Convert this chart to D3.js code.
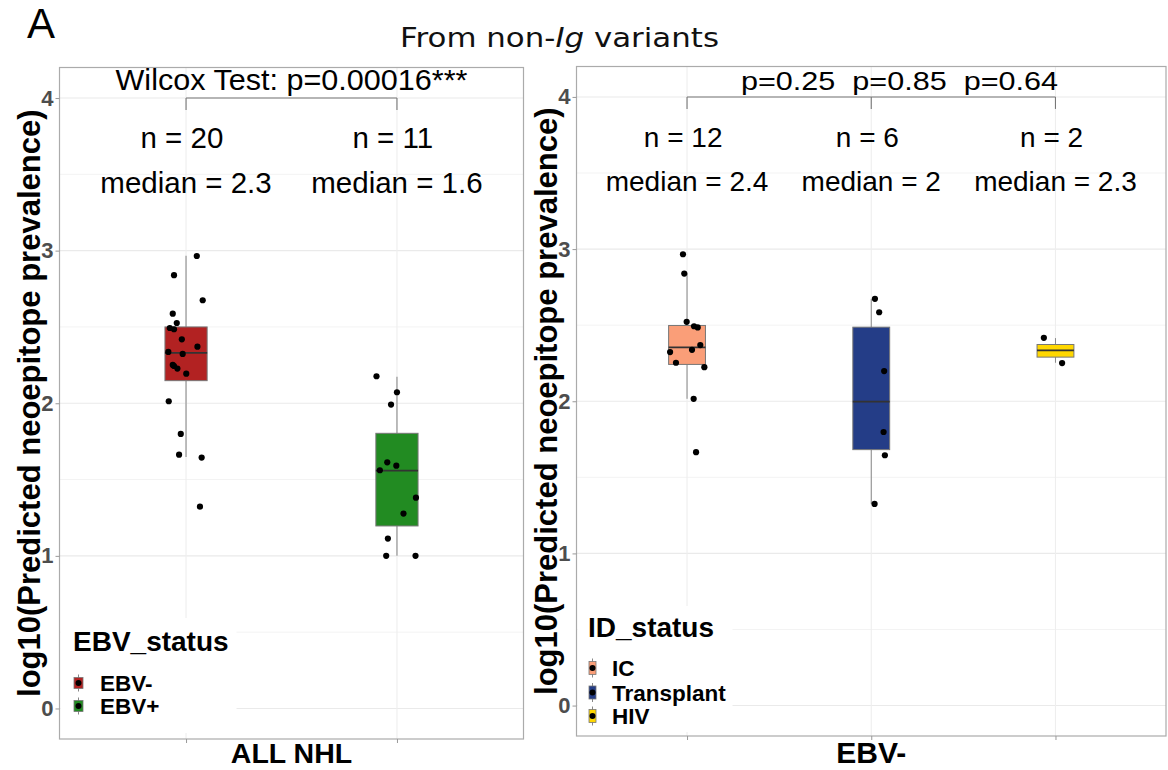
<!DOCTYPE html>
<html>
<head>
<meta charset="utf-8">
<script src="https://cdn.jsdelivr.net/npm/d3@7"></script>
<style>
  html, body { margin: 0; padding: 0; background: #fff; }
  svg { display: block; }
  text { font-family: "Liberation Sans", Arial, sans-serif; }
</style>
</head>
<body>
<svg id="chart" width="1168" height="770"></svg>
<script>
// ---------------- DATA ----------------
const yTickValues = [0, 1, 2, 3, 4];
const yMinorValues = [0.5, 1.5, 2.5, 3.5];

// Left panel: EBV status (ALL NHL)
const leftGroups = ["EBV-", "EBV+"];
const leftColors = ["#B22222", "#228B22"];
const leftN = [20, 11];
const leftMedianLabel = ["2.3", "1.6"];
const leftQ1 = [2.148, 1.196];
const leftMedian = [2.330, 1.558];
const leftQ3 = [2.500, 1.803];
const leftWhiskerLow = [1.648, 1.000];
const leftWhiskerHigh = [2.967, 2.174];
const ebvNegValues = [2.965, 2.839, 2.675, 2.587, 2.526, 2.493, 2.485, 2.419, 2.371, 2.336,
                      2.323, 2.251, 2.244, 2.227, 2.194, 2.013, 1.799, 1.663, 1.644, 1.322];
const ebvNegJitter = [0.051, -0.057, 0.079, -0.063, -0.044, -0.077, -0.057, -0.020, 0.054, -0.084,
                      -0.016, -0.063, -0.057, -0.041, 0.001, -0.082, -0.025, -0.033, 0.074, 0.066];
const ebvPosValues = [2.177, 2.072, 1.991, 1.613, 1.591, 1.561, 1.381, 1.277, 1.113, 1.000, 1.000];
const ebvPosJitter = [-0.097, 0.000, -0.028, -0.046, -0.003, -0.081, 0.090, 0.031, -0.043, -0.051, 0.088];

// Right panel: ID status (EBV-)
const rightGroups = ["IC", "Transplant", "HIV"];
const rightColors = ["#FA9E78", "#243D87", "#FFD700"];
const rightN = [12, 6, 2];
const rightMedianLabel = ["2.4", "2", "2.3"];
const rightQ1 = [2.242, 1.682, 2.290];
const rightMedian = [2.354, 1.997, 2.334];
const rightQ3 = [2.498, 2.487, 2.373];
const rightWhiskerLow = [2.016, 1.325, 2.253];
const rightWhiskerHigh = [2.839, 2.673, 2.415];
const icValues = [2.966, 2.839, 2.522, 2.493, 2.485, 2.369, 2.338, 2.323, 2.253, 2.224, 2.016, 1.665];
const icJitter = [-0.022, -0.015, -0.002, 0.038, 0.058, 0.072, 0.027, -0.092, -0.060, 0.094, 0.036, 0.049];
const transplantValues = [2.673, 2.585, 2.198, 1.798, 1.645, 1.325];
const transplantJitter = [0.020, 0.043, 0.070, 0.067, 0.074, 0.018];
const hivValues = [2.417, 2.251];
const hivJitter = [-0.063, 0.036];

// ---------------- DRAWING ----------------
const svg = d3.select("#chart");

svg.append("text").attr("x", 27).attr("y", 38)
  .style("font-size", "42px").attr("fill", "#000").text("A");

const title = svg.append("text").attr("x", 400).attr("y", 47)
  .attr("textLength", 319).attr("lengthAdjust", "spacingAndGlyphs")
  .style("font-family", "'DejaVu Sans', Verdana, sans-serif")
  .style("font-size", "27px").attr("fill", "#111");
title.append("tspan").text("From non-");
title.append("tspan").style("font-style", "italic").text("Ig");
title.append("tspan").text(" variants");

function drawPanel(cfg) {
  const g = svg.append("g");
  const x = d3.scalePoint().domain(cfg.groups).range([cfg.left, cfg.right]).padding(0.6);
  const y = d3.scaleLinear().domain([-0.2, 4.2]).range([cfg.bottom, cfg.top]);
  const step = x.step();
  const boxW = step * 0.2;

  // grid
  g.selectAll(".minor").data(yMinorValues).join("line")
    .attr("x1", cfg.left).attr("x2", cfg.right)
    .attr("y1", d => y(d)).attr("y2", d => y(d))
    .attr("stroke", "#F3F3F3").attr("stroke-width", 1);
  g.selectAll(".major").data(yTickValues).join("line")
    .attr("x1", cfg.left).attr("x2", cfg.right)
    .attr("y1", d => y(d)).attr("y2", d => y(d))
    .attr("stroke", "#EAEAEA").attr("stroke-width", 1.1);
  g.selectAll(".vmajor").data(cfg.groups).join("line")
    .attr("x1", d => x(d)).attr("x2", d => x(d))
    .attr("y1", cfg.top).attr("y2", cfg.bottom)
    .attr("stroke", "#EEEEEE").attr("stroke-width", 1.1);

  // legend background (hides grid)
  g.append("rect").attr("x", cfg.left + 1).attr("y", cfg.legendBg[0])
    .attr("width", cfg.legendBg[1]).attr("height", cfg.legendBg[2]).attr("fill", "#fff");

  // boxes
  cfg.groups.forEach((grp, i) => {
    const cx = x(grp);
    g.append("line").attr("x1", cx).attr("x2", cx)
      .attr("y1", y(cfg.whiskerHigh[i])).attr("y2", y(cfg.q3[i]))
      .attr("stroke", cfg.whiskerColor).attr("stroke-width", cfg.whiskerWidth);
    g.append("line").attr("x1", cx).attr("x2", cx)
      .attr("y1", y(cfg.q1[i])).attr("y2", y(cfg.whiskerLow[i]))
      .attr("stroke", cfg.whiskerColor).attr("stroke-width", cfg.whiskerWidth);
    g.append("rect").attr("x", cx - boxW / 2).attr("y", y(cfg.q3[i]))
      .attr("width", boxW).attr("height", y(cfg.q1[i]) - y(cfg.q3[i]))
      .attr("fill", cfg.colors[i]).attr("stroke", "#777").attr("stroke-width", 1);
    g.append("line").attr("x1", cx - boxW / 2).attr("x2", cx + boxW / 2)
      .attr("y1", y(cfg.median[i])).attr("y2", y(cfg.median[i]))
      .attr("stroke", "#333").attr("stroke-width", 1.8);
  });

  // points
  cfg.groups.forEach((grp, i) => {
    const vals = cfg.values[i], jit = cfg.jitter[i];
    g.selectAll(null).data(vals).join("circle")
      .attr("cx", (d, k) => x(grp) + jit[k] * step)
      .attr("cy", d => y(d)).attr("r", 3.1).attr("fill", "#000");
  });

  // panel border
  g.append("rect").attr("x", cfg.left).attr("y", cfg.top)
    .attr("width", cfg.right - cfg.left).attr("height", cfg.bottom - cfg.top)
    .attr("fill", "none").attr("stroke", "#ABABAB").attr("stroke-width", 1.2);

  // y axis
  const ya = g.append("g").attr("transform", `translate(${cfg.left},0)`)
    .call(d3.axisLeft(y).tickValues(yTickValues).tickSize(4).tickPadding(2).tickFormat(d3.format("d")));
  ya.select(".domain").remove();
  ya.selectAll(".tick line").attr("stroke", "#999");
  ya.selectAll(".tick text").attr("fill", "#4D4D4D")
    .style("font-size", "22px").style("font-weight", "bold")
    .style("font-family", "'Liberation Sans', Arial, sans-serif");

  // x axis (ticks only)
  const xa = g.append("g").attr("transform", `translate(0,${cfg.bottom})`)
    .call(d3.axisBottom(x).tickSize(4).tickFormat(""));
  xa.select(".domain").remove();
  xa.selectAll(".tick line").attr("stroke", "#999");

  // axis titles
  g.append("text").attr("x", (cfg.left + cfg.right) / 2).attr("y", 763)
    .attr("text-anchor", "middle").style("font-size", cfg.xTitleSize).style("font-weight", "bold")
    .text(cfg.xTitle);
  g.append("text")
    .attr("transform", `translate(${cfg.yTitleX},${(cfg.top + cfg.bottom) / 2}) rotate(-90)`)
    .attr("text-anchor", "middle").style("font-size", "31px").style("font-weight", "bold")
    .text("log10(Predicted neoepitope prevalence)");

  // n / median labels
  cfg.groups.forEach((grp, i) => {
    g.append("text").attr("x", x(grp)).attr("y", y(3.67))
      .attr("text-anchor", "middle").style("font-size", cfg.labelSize).style("white-space", "pre")
      .text(`n = ${cfg.n[i]} `);
    g.append("text").attr("x", x(grp)).attr("y", y(3.38))
      .attr("text-anchor", "middle").style("font-size", cfg.labelSize)
      .text(`median = ${cfg.medianLabel[i]}`);
  });

  // significance bracket
  const by = y(4);
  const bx = cfg.groups.map(d => x(d));
  g.append("line").attr("x1", bx[0]).attr("x2", bx[bx.length - 1])
    .attr("y1", by).attr("y2", by).attr("stroke", "#777").attr("stroke-width", 1.1);
  g.selectAll(null).data(bx).join("line")
    .attr("x1", d => d).attr("x2", d => d).attr("y1", by).attr("y2", by + 12)
    .attr("stroke", "#777").attr("stroke-width", 1.1);
  g.append("text").attr("x", cfg.pX).attr("y", 90)
    .attr("text-anchor", cfg.pAnchor)
    .attr("textLength", cfg.pLength).attr("lengthAdjust", "spacingAndGlyphs")
    .style("font-size", cfg.pSize).style("white-space", "pre")
    .text(cfg.pText);

  // legend
  g.append("text").attr("x", cfg.legendX).attr("y", cfg.legendTitleY)
    .style("font-size", "28px").style("font-weight", "bold").text(cfg.legendTitle);
  cfg.groups.forEach((grp, i) => {
    const cy = cfg.legendRows[i];
    const kx = cfg.legendKeyX;
    g.append("line").attr("x1", kx).attr("x2", kx)
      .attr("y1", cy - cfg.keyH / 2 - 3).attr("y2", cy + cfg.keyH / 2 + 3)
      .attr("stroke", "#888").attr("stroke-width", 1);
    g.append("rect").attr("x", kx - cfg.keyW / 2).attr("y", cy - cfg.keyH / 2)
      .attr("width", cfg.keyW).attr("height", cfg.keyH)
      .attr("fill", cfg.colors[i]).attr("stroke", "#777").attr("stroke-width", 0.8);
    g.append("circle").attr("cx", kx).attr("cy", cy).attr("r", 3).attr("fill", "#000");
    g.append("text").attr("x", cfg.legendLabelX).attr("y", cy + 8)
      .style("font-size", "22.5px").style("font-weight", "bold").text(grp);
  });
}

drawPanel({
  groups: leftGroups, colors: leftColors, n: leftN, medianLabel: leftMedianLabel,
  q1: leftQ1, median: leftMedian, q3: leftQ3, whiskerLow: leftWhiskerLow, whiskerHigh: leftWhiskerHigh,
  values: [ebvNegValues, ebvPosValues], jitter: [ebvNegJitter, ebvPosJitter],
  left: 59.5, right: 523.5, top: 67.5, bottom: 739,
  whiskerColor: "#A8A8A8", whiskerWidth: 1.5,
  xTitle: "ALL NHL", xTitleSize: "28.5px", yTitleX: 40, labelSize: "29.5px",
  pText: "Wilcox Test: p=0.00016***", pX: 291.5, pAnchor: "middle", pLength: 352, pSize: "29px",
  legendTitle: "EBV_status", legendX: 73, legendTitleY: 651, legendBg: [618, 176, 115],
  legendRows: [683, 706], legendKeyX: 78.5, keyW: 9, keyH: 11, legendLabelX: 100
});

drawPanel({
  groups: rightGroups, colors: rightColors, n: rightN, medianLabel: rightMedianLabel,
  q1: rightQ1, median: rightMedian, q3: rightQ3, whiskerLow: rightWhiskerLow, whiskerHigh: rightWhiskerHigh,
  values: [icValues, transplantValues, hivValues], jitter: [icJitter, transplantJitter, hivJitter],
  left: 576.5, right: 1166, top: 66.5, bottom: 736,
  whiskerColor: "#888", whiskerWidth: 1,
  xTitle: "EBV-", xTitleSize: "30px", yTitleX: 557, labelSize: "28px",
  pText: "p=0.25  p=0.85  p=0.64", pX: 741, pAnchor: "start", pLength: 317, pSize: "26px",
  legendTitle: "ID_status", legendX: 588, legendTitleY: 637, legendBg: [606, 155, 126],
  legendRows: [668, 692.5, 716], legendKeyX: 592.5, keyW: 7, keyH: 13, legendLabelX: 612
});
</script>
</body>
</html>
